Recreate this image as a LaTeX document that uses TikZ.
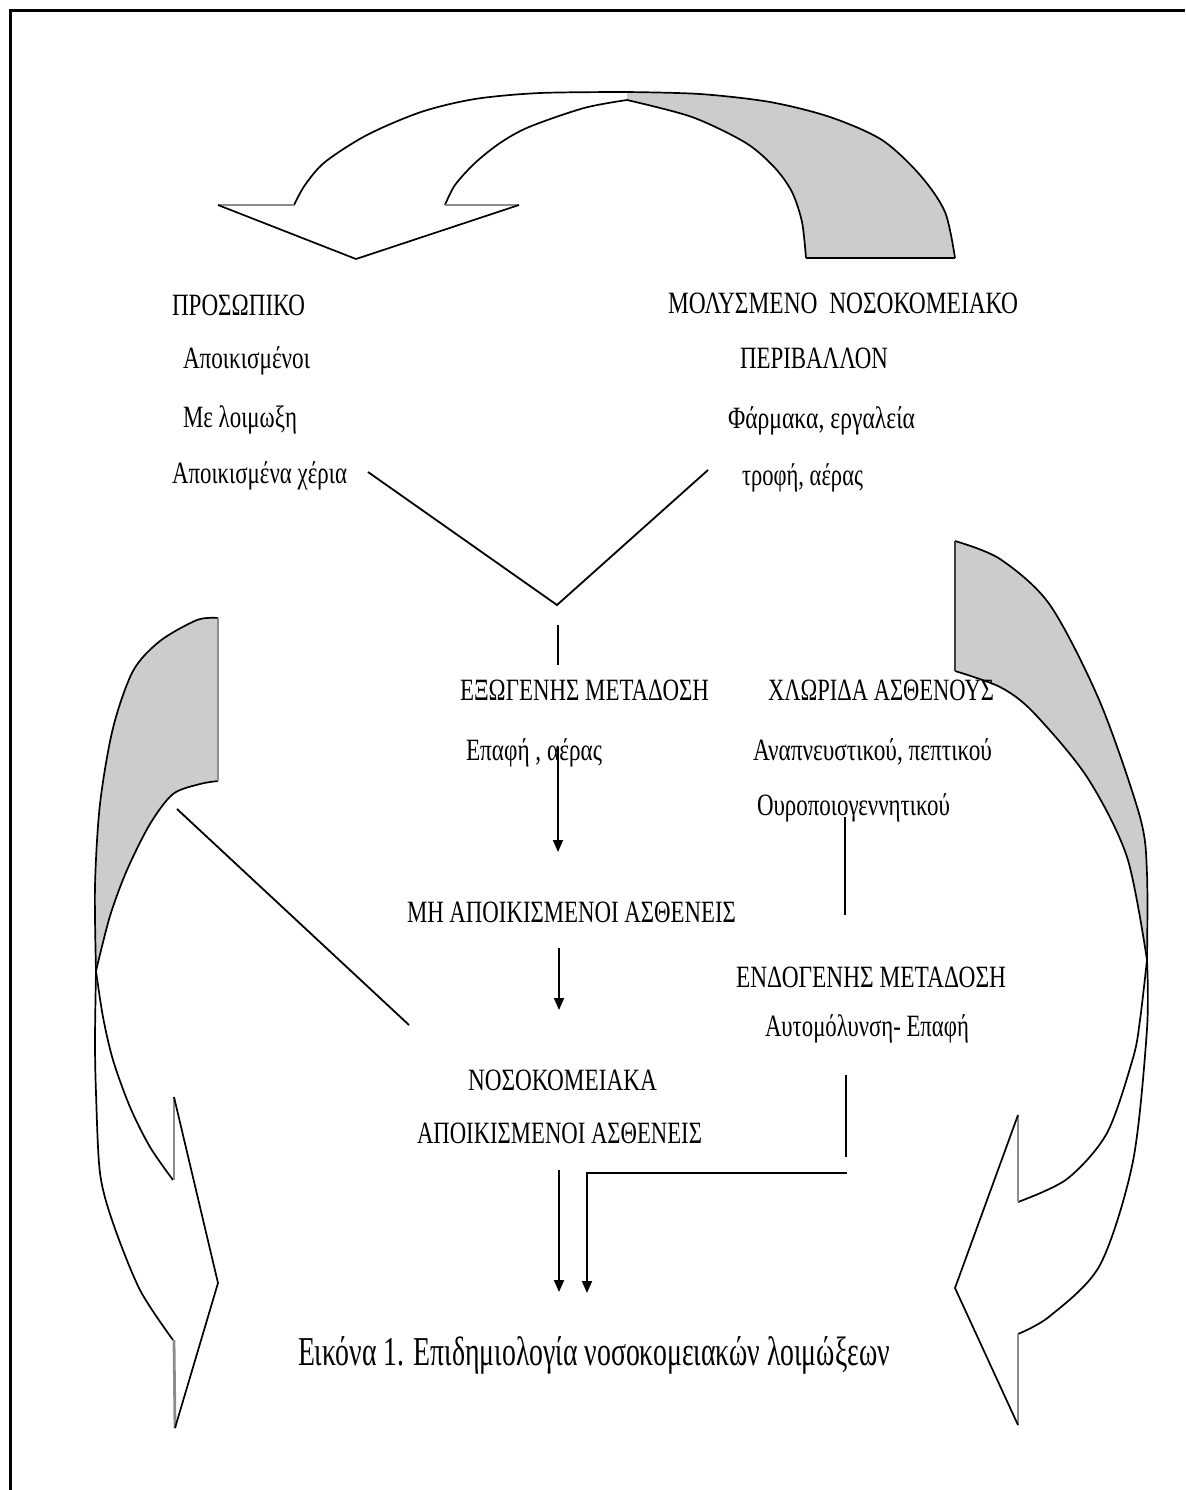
\documentclass[tikz,border=0pt]{standalone}
\usepackage{fontspec}
\setmainfont{Liberation Serif}
\usepackage{graphicx}
\usetikzlibrary{arrows.meta}
\definecolor{shadegray}{RGB}{204,204,204}
\definecolor{winggray}{RGB}{140,140,140}
\newlength\pxu
\setlength\pxu{0.5pt}
\newcommand\fitt[2]{\resizebox{#1\pxu}{\height}{#2}}
\begin{document}
\begin{tikzpicture}[x=0.5pt,y=-0.5pt,
  lbl/.style={anchor=base west, inner sep=0pt, outer sep=0pt, font=\fontsize{15.5}{18}\selectfont},
  captxt/.style={lbl, font=\fontsize{20.5}{24}\selectfont},
  outl/.style={line width=0.85pt, line join=round},
  wingl/.style={line width=1.4pt, draw=winggray},
  conn/.style={line width=0.9pt},
  arr/.style={conn, -{Triangle[length=6pt,width=5pt]}},
  framel/.style={line width=1.5pt}]
\useasboundingbox (0,0) rectangle (1185,1490);

% frame
\draw[framel] (10,1490) -- (10,10) -- (1185,10);

% ---------- top curved arrow ----------
\fill[shadegray] plot[smooth] coordinates {(627,100) (692,117) (746,143) (775,168) (792,192) (802,222) (806,258)}
  -- (955,258) -- plot[smooth] coordinates {(955,258) (945,212) (920,175) (882,140) (830,117) (770,102) (700,94) (627,92)} -- cycle;
\draw[outl] plot[smooth] coordinates {(294,205) (305,185) (325,162) (367,135) (421,112) (475,99) (540,93) (627,92)};
\draw[outl] plot[smooth] coordinates {(627,92) (700,94) (770,102) (830,117) (882,140) (920,175) (945,212) (955,258)};
\draw[outl] plot[smooth] coordinates {(445,205) (455,185) (475,163) (500,143) (529,127) (584,108) (627,100)};
\draw[outl] plot[smooth] coordinates {(627,100) (692,117) (746,143) (775,168) (792,192) (802,222) (806,258)};
\draw[line width=1.4pt] (806,258) -- (955,258);
\draw[wingl] (218,205) -- (294,205);
\draw[wingl] (445,205) -- (519,205);
\draw[outl] (218,205) -- (356,259) -- (519,205);

% ---------- left curved arrow ----------
\fill[shadegray] plot[smooth] coordinates {(218,618) (197,620) (160,641) (133,671) (113,728) (100,804) (95,886) (96,971)}
  -- plot[smooth] coordinates {(96,971) (110,916) (127,870) (150,824) (173,794) (200,784) (218,781)} -- cycle;
\draw[outl] plot[smooth] coordinates {(218,618) (197,620) (160,641) (133,671) (113,728) (100,804) (95,886) (96,971)};
\draw[outl] plot[smooth] coordinates {(96,971) (95,1040) (96,1093) (100,1173) (113,1223) (140,1290) (173,1340)};
\draw[outl] plot[smooth] coordinates {(218,781) (200,784) (173,794) (150,824) (127,870) (110,916) (96,971)};
\draw[outl] plot[smooth] coordinates {(96,971) (103,1017) (113,1060) (130,1107) (150,1147) (173,1180)};
\draw[wingl] (218,618) -- (218,781);
\draw[wingl] (174,1180) -- (174,1097);
\draw[wingl] (174,1340) -- (175,1428);
\draw[outl] (174,1097) -- (218,1283) -- (175,1428);

% ---------- right curved arrow ----------
\fill[shadegray] plot[smooth] coordinates {(955,541) (1000,559) (1050,605) (1100,702) (1140,817) (1147,874) (1147,960)}
  -- plot[smooth] coordinates {(1147,960) (1127,857) (1087,777) (1033,712) (1000,687) (955,671)} -- cycle;
\draw[outl] plot[smooth] coordinates {(955,541) (1000,559) (1050,605) (1100,702) (1140,817) (1147,874) (1147,960)};
\draw[outl] plot[smooth] coordinates {(1147,960) (1147,1029) (1133,1161) (1100,1265) (1050,1316) (1018,1334)};
\draw[outl] plot[smooth] coordinates {(955,671) (1000,687) (1033,712) (1087,777) (1127,857) (1147,960)};
\draw[outl] plot[smooth] coordinates {(1147,960) (1140,1020) (1133,1058) (1107,1133) (1067,1179) (1018,1202)};
\draw[wingl, draw=black!75] (955,541) -- (955,671);
\draw[wingl] (1018,1202) -- (1018,1115);
\draw[wingl] (1018,1334) -- (1018,1425);
\draw[outl] (1018,1115) -- (955,1288) -- (1018,1425);

% ---------- connectors ----------
\coordinate (va) at (368,472);
\coordinate (vb) at (557,605);
\coordinate (vc) at (708,470);
\draw[conn] (va) -- (vb) -- (vc);

\coordinate (a1s) at (558,625);
\coordinate (a1m) at (558,665);
\coordinate (a1r) at (558,747);
\coordinate (a1e) at (558,852);
\draw[conn] (a1s) -- (a1m);
\draw[arr] (a1r) -- (a1e);

\coordinate (a2s) at (559,948);
\coordinate (a2e) at (559,1010);
\draw[arr] (a2s) -- (a2e);

\coordinate (a3s) at (559,1170);
\coordinate (a3e) at (559,1292);
\draw[arr] (a3s) -- (a3e);

\coordinate (ls) at (847,1173);
\coordinate (lc) at (587,1173);
\coordinate (le) at (587,1293);
\draw[arr] (ls) -- (lc) -- (le);

\coordinate (r1s) at (845,817);
\coordinate (r1e) at (845,915);
\draw[conn] (r1s) -- (r1e);

\coordinate (r2s) at (846,1075);
\coordinate (r2e) at (846,1157);
\draw[conn] (r2s) -- (r2e);

\coordinate (ds) at (177,809);
\coordinate (de) at (409,1025);
\draw[conn] (ds) -- (de);

% ---------- texts ----------
\node[lbl] (t1) at (172,315) {\fitt{133}{ΠΡΟΣΩΠΙΚΟ}};
\node[lbl] (t2) at (183,368) {\fitt{127}{Αποικισμένοι}};
\node[lbl] (t3) at (183,427) {\fitt{114}{Με λοιμωξη}};
\node[lbl] (t4) at (172,483) {\fitt{175}{Αποικισμένα χέρια}};
\node[lbl] (t5) at (668,313) {\fitt{350}{ΜΟΛΥΣΜΕΝΟ\ \ ΝΟΣΟΚΟΜΕΙΑΚΟ}};
\node[lbl] (t6) at (740,368) {\fitt{148}{ΠΕΡΙΒΑΛΛΟΝ}};
\node[lbl] (t7) at (728,428) {\fitt{187}{Φάρμακα, εργαλεία}};
\node[lbl] (t8) at (742,485) {\fitt{121}{τροφή, αέρας}};
\node[lbl] (t9) at (460,700) {\fitt{249}{ΕΞΩΓΕΝΗΣ ΜΕΤΑΔΟΣΗ}};
\node[lbl] (t10) at (466,760) {\fitt{136}{Επαφή , αέρας}};
\node[lbl] (t11) at (768,700) {\fitt{226}{ΧΛΩΡΙΔΑ ΑΣΘΕΝΟΥΣ}};
\node[lbl] (t12) at (753,760) {\fitt{239}{Αναπνευστικού, πεπτικού}};
\node[lbl] (t13) at (757,815) {\fitt{193}{Ουροποιογεννητικού}};
\node[lbl] (t14) at (407,922) {\fitt{329}{ΜΗ ΑΠΟΙΚΙΣΜΕΝΟΙ ΑΣΘΕΝΕΙΣ}};
\node[lbl] (t15) at (736,987) {\fitt{270}{ΕΝΔΟΓΕΝΗΣ ΜΕΤΑΔΟΣΗ}};
\node[lbl] (t16) at (765,1036) {\fitt{204}{Αυτομόλυνση- Επαφή}};
\node[lbl] (t17) at (468,1090) {\fitt{189}{ΝΟΣΟΚΟΜΕΙΑΚΑ}};
\node[lbl] (t18) at (417,1143) {\fitt{285}{ΑΠΟΙΚΙΣΜΕΝΟΙ ΑΣΘΕΝΕΙΣ}};
\node[captxt] (t19) at (298,1365) {\fitt{592}{Εικόνα 1. Επιδημιολογία νοσοκομειακών λοιμώξεων}};
\end{tikzpicture}
\end{document}
